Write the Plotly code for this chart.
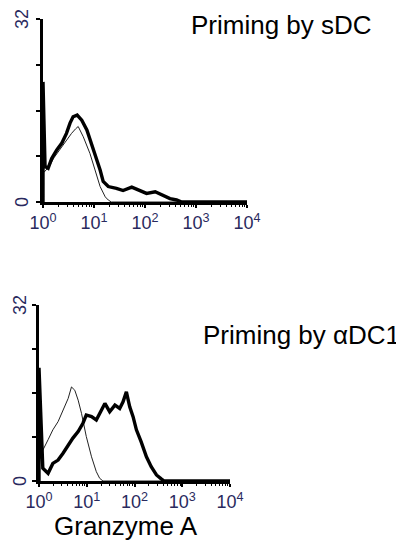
import plotly.graph_objects as go

W, H = 404, 544
OFF = 8  # default page margin around the plot div
FW, FH = W - OFF, H - OFF

# ---------------- data (log10 fluorescence, event count) ----------------
top_thick_log = [0, 0.0, 0.04, 0.10, 0.17, 0.27, 0.37, 0.46, 0.53, 0.59, 0.67, 0.76, 0.86, 0.95, 1.05,
                 1.12, 1.18, 1.28, 1.44, 1.57, 1.74, 1.90, 2.03, 2.20, 2.36, 2.49, 2.62, 2.72, 4.0]
top_thick_val = [0, 21, 6.2, 5.9, 7.6, 9.1, 10.3, 12.0, 13.8, 14.9, 15.2, 14.3, 12.6, 10.3, 7.6,
                 5.6, 3.6, 2.7, 2.4, 2.0, 2.6, 2.0, 1.5, 1.8, 1.05, 0.6, 0.35, 0, 0]

top_thin_log = [0.02, 0.12, 0.22, 0.34, 0.46, 0.56, 0.64, 0.69, 0.79, 0.92, 1.02, 1.12, 1.22, 1.28, 1.34, 4.0]
top_thin_val = [5.2, 6.2, 7.8, 9.3, 10.8, 12.0, 12.8, 13.2, 11.4, 8.5, 5.6, 2.7, 0.9, 0.35, 0, 0]

bot_thick_log = [0, 0.0, 0.08, 0.19, 0.29, 0.40, 0.50, 0.61, 0.71, 0.82, 0.92, 0.99, 1.10, 1.20, 1.30,
                 1.38, 1.48, 1.59, 1.69, 1.76, 1.83, 1.90, 1.97, 2.04, 2.14, 2.25, 2.35, 2.46, 2.56,
                 2.62, 4.0]
bot_thick_val = [0, 20.6, 2.3, 1.4, 3.2, 3.8, 5.0, 6.5, 7.8, 9.0, 10.5, 12.0, 11.7, 11.1, 12.6,
                 14.1, 12.6, 13.8, 13.2, 14.4, 16.2, 13.5, 11.7, 9.3, 7.1, 4.4, 2.6, 1.1, 0.4,
                 0, 0]

bot_thin_log = [0.04, 0.08, 0.19, 0.29, 0.40, 0.50, 0.61, 0.68, 0.75, 0.82, 0.89, 0.99, 1.10, 1.20,
                1.27, 1.34, 4.0]
bot_thin_val = [4.0, 5.6, 7.5, 9.3, 10.8, 12.9, 15.0, 17.1, 16.5, 14.7, 12.3, 8.1, 4.4, 1.7,
                0.5, 0, 0]

x_tickvals = [1, 10, 100, 1000, 10000]
x_ticktext = ["10<sup>0</sup>", "10<sup>1</sup>", "10<sup>2</sup>", "10<sup>3</sup>", "10<sup>4</sup>"]
y_tickvals = [0, 8, 16, 24, 32]
y_labelvals = [0, 32]
y_labeltext = ["0", "32"]

titles = ["Priming by sDC", "Priming by \u03b1DC1"]
x_title = "Granzyme A"

# ---------------- helpers (page pixels -> paper fraction) ----------------
def px_x(p):
    return (p - OFF) / FW

def px_y(p):
    return 1 - (p - OFF) / FH

fig = go.Figure()

def lin(v):
    return [10 ** a for a in v]

fig.add_trace(go.Scatter(x=lin(top_thin_log), y=top_thin_val, mode="lines",
                         line=dict(color="#222", width=1), xaxis="x", yaxis="y"))
fig.add_trace(go.Scatter(x=lin(top_thick_log), y=top_thick_val, mode="lines",
                         line=dict(color="black", width=3.4), xaxis="x", yaxis="y"))
fig.add_trace(go.Scatter(x=lin(bot_thin_log), y=bot_thin_val, mode="lines",
                         line=dict(color="#222", width=1), xaxis="x2", yaxis="y2"))
fig.add_trace(go.Scatter(x=lin(bot_thick_log), y=bot_thick_val, mode="lines",
                         line=dict(color="black", width=3.4), xaxis="x2", yaxis="y2"))

tick_font = dict(family="Liberation Sans, Arial", size=18, color="#2a2a5e")
minor_vals = [m * 10 ** d for d in range(4) for m in range(2, 10)]

def xaxis(domain, anchor):
    return dict(type="log", range=[0, 4], domain=domain, anchor=anchor, automargin=False,
                showline=True, linecolor="black", linewidth=2.5, showgrid=False, zeroline=False,
                tickvals=x_tickvals, ticktext=x_ticktext, ticks="outside", ticklen=3, tickwidth=1.5,
                tickcolor="black", tickfont=tick_font,
                minor=dict(tickvals=minor_vals, ticks="outside", ticklen=2, tickwidth=1, tickcolor="black"),
                fixedrange=True)

def yaxis(domain, anchor):
    return dict(range=[0, 32], domain=domain, anchor=anchor, automargin=False,
                showline=True, linecolor="black", linewidth=2.5, showgrid=False, zeroline=False,
                tickvals=y_tickvals, showticklabels=False, ticks="outside", ticklen=4, tickwidth=1.5,
                tickcolor="black", fixedrange=True)

fig.update_layout(
    width=FW, height=FH, margin=dict(l=0, r=0, t=0, b=0, autoexpand=False),
    paper_bgcolor="white", plot_bgcolor="white", showlegend=False,
    xaxis=xaxis([px_x(43), px_x(247)], "y"),
    yaxis=yaxis([px_y(202), px_y(19)], "x"),
    xaxis2=xaxis([px_x(39), px_x(230)], "y2"),
    yaxis2=yaxis([px_y(481), px_y(305)], "x2"),
)

# rotated y tick labels ("0" and "32"), tied to the y scales
for yref, xpix in (("y", 22), ("y2", 20)):
    for v, t in zip(y_labelvals, y_labeltext):
        fig.add_annotation(text=t, xref="paper", yref=yref, x=px_x(xpix), y=v,
                           xanchor="center", yanchor="middle", textangle=-90,
                           showarrow=False, font=tick_font)

title_font = dict(family="Liberation Sans, Arial", size=26, color="black")
fig.add_annotation(text=titles[0], xref="paper", yref="paper", x=px_x(189), y=px_y(25),
                   xanchor="left", yanchor="middle", showarrow=False, font=title_font)
fig.add_annotation(text=titles[1], xref="paper", yref="paper", x=px_x(201), y=px_y(335),
                   xanchor="left", yanchor="middle", showarrow=False, font=title_font)
fig.add_annotation(text=x_title, xref="paper", yref="paper", x=px_x(52), y=px_y(526),
                   xanchor="left", yanchor="middle", showarrow=False, font=title_font)

fig.write_html("out.html")
